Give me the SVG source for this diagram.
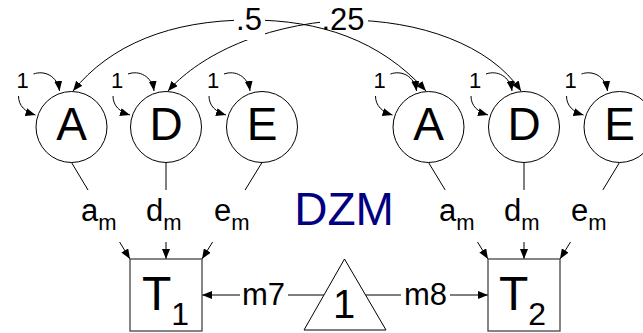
<svg xmlns="http://www.w3.org/2000/svg" width="643" height="333" viewBox="0 0 643 333">
<defs>
<marker id="ah" viewBox="0 0 10 8" refX="10" refY="4" markerWidth="10" markerHeight="8" markerUnits="userSpaceOnUse" orient="auto-start-reverse">
<path d="M0,0 L10,4 L0,8 z" fill="#000"/>
</marker>
<style>
text{font-family:"Liberation Sans",Arial,sans-serif;fill:#000}
.ln{fill:none;stroke:#000;stroke-width:1}
.arr{fill:none;stroke:#000;stroke-width:1;marker-end:url(#ah)}
.circ{fill:#fff;stroke:#000;stroke-width:1}
.box{fill:#fff;stroke:#444;stroke-width:1.3}
.big{font-size:46px;text-anchor:middle}
.one{font-size:22px;text-anchor:middle}
.lab{font-size:31px}
.sub{font-size:22px}
</style>
</defs>
<rect width="643" height="333" fill="#fff"/>
<g id="connectors">
<path class="ln" marker-start="url(#ah)" marker-end="url(#ah)" d="M426,91 C380,40 320,20 250,20 C170,20 110,45 73,91"/>
<path class="ln" marker-start="url(#ah)" marker-end="url(#ah)" d="M168,91 C195,60 255,25 345,20 C420,20 490,45 521,91"/>
<rect x="234" y="2" width="31" height="38" fill="#fff"/>
<rect x="320" y="4" width="48" height="22" fill="#fff"/>
<text x="249" y="30" class="lab" text-anchor="middle" font-size="32">.5</text>
<text x="343" y="30" class="lab" text-anchor="middle" font-size="32">.25</text>
<g>
<text x="22.5" y="88" class="one">1</text>
<path class="arr" d="M33.5,74 C44.5,70 57.5,76 59.5,91"/>
<path class="arr" d="M18.5,96 C18.5,106 25.5,112 35.5,115"/>
<text x="117" y="88" class="one">1</text>
<path class="arr" d="M128,74 C139,70 152,76 154,91"/>
<path class="arr" d="M113,96 C113,106 120,112 130,115"/>
<text x="213" y="88" class="one">1</text>
<path class="arr" d="M224,74 C235,70 248,76 250,91"/>
<path class="arr" d="M209,96 C209,106 216,112 226,115"/>
<text x="379.5" y="88" class="one">1</text>
<path class="arr" d="M390.5,74 C401.5,70 414.5,76 416.5,91"/>
<path class="arr" d="M375.5,96 C375.5,106 382.5,112 392.5,115"/>
<text x="475" y="88" class="one">1</text>
<path class="arr" d="M486,74 C497,70 510,76 512,91"/>
<path class="arr" d="M471,96 C471,106 478,112 488,115"/>
<text x="570.5" y="88" class="one">1</text>
<path class="arr" d="M581.5,74 C592.5,70 605.5,76 607.5,91"/>
<path class="arr" d="M566.5,96 C566.5,106 573.5,112 583.5,115"/>
</g>
<line class="ln" x1="71.5" y1="162.5" x2="88" y2="190"/>
<line class="arr" x1="119.6" y1="242" x2="130" y2="259"/>
<line class="ln" x1="166" y1="162.5" x2="166" y2="190"/>
<line class="arr" x1="166" y1="242" x2="166" y2="259"/>
<line class="ln" x1="262" y1="162.5" x2="245.1" y2="190"/>
<line class="arr" x1="212.6" y1="242" x2="202" y2="259"/>
<line class="ln" x1="428.5" y1="162.5" x2="445.2" y2="190"/>
<line class="arr" x1="477.5" y1="242" x2="488" y2="259"/>
<line class="ln" x1="524" y1="162.5" x2="524" y2="190"/>
<line class="arr" x1="524" y1="242" x2="524" y2="259"/>
<line class="ln" x1="619.5" y1="162.5" x2="602.8" y2="190"/>
<line class="arr" x1="570.5" y1="242" x2="560" y2="259"/>
<text x="81" y="221" class="lab">a<tspan class="sub" dy="9">m</tspan></text>
<text x="146" y="221" class="lab">d<tspan class="sub" dy="9">m</tspan></text>
<text x="214" y="221" class="lab">e<tspan class="sub" dy="9">m</tspan></text>
<text x="439" y="221" class="lab">a<tspan class="sub" dy="9">m</tspan></text>
<text x="504" y="221" class="lab">d<tspan class="sub" dy="9">m</tspan></text>
<text x="571" y="221" class="lab">e<tspan class="sub" dy="9">m</tspan></text>
<line class="ln" x1="324" y1="295" x2="288" y2="295"/>
<line class="arr" x1="240" y1="295" x2="202" y2="295"/>
<text x="263.5" y="305" class="lab" text-anchor="middle" font-size="32">m7</text>
<line class="ln" x1="365" y1="295" x2="401" y2="295"/>
<line class="arr" x1="450" y1="295" x2="488" y2="295"/>
<text x="425.5" y="305" class="lab" text-anchor="middle" font-size="32">m8</text>
</g>
<g id="A1"><circle class="circ" cx="71.5" cy="127" r="35.5"/><text x="71.5" y="140" class="big">A</text></g>
<g id="D1"><circle class="circ" cx="166" cy="127" r="35.5"/><text x="166" y="140" class="big">D</text></g>
<g id="E1"><circle class="circ" cx="262" cy="127" r="35.5"/><text x="262" y="140" class="big">E</text></g>
<g id="A2"><circle class="circ" cx="428.5" cy="127" r="35.5"/><text x="428.5" y="140" class="big">A</text></g>
<g id="D2"><circle class="circ" cx="524" cy="127" r="35.5"/><text x="524" y="140" class="big">D</text></g>
<g id="E2"><circle class="circ" cx="619.5" cy="127" r="35.5"/><text x="619.5" y="140" class="big">E</text></g>
<g id="T1"><rect class="box" x="130" y="259" width="72" height="72"/><text x="142" y="310" font-size="48">T<tspan font-size="32" dy="15">1</tspan></text></g>
<g id="T2"><rect class="box" x="488" y="259" width="72" height="72"/><text x="499" y="310" font-size="48">T<tspan font-size="32" dy="15">2</tspan></text></g>
<g id="mean"><polygon points="344.5,259 304,330 386,330" fill="#fff" stroke="#000" stroke-width="1"/><text x="344" y="318" font-size="40" text-anchor="middle">1</text></g>
<g id="title"><text x="344" y="225" font-size="46" text-anchor="middle" style="fill:#000080">DZM</text></g>
</svg>
